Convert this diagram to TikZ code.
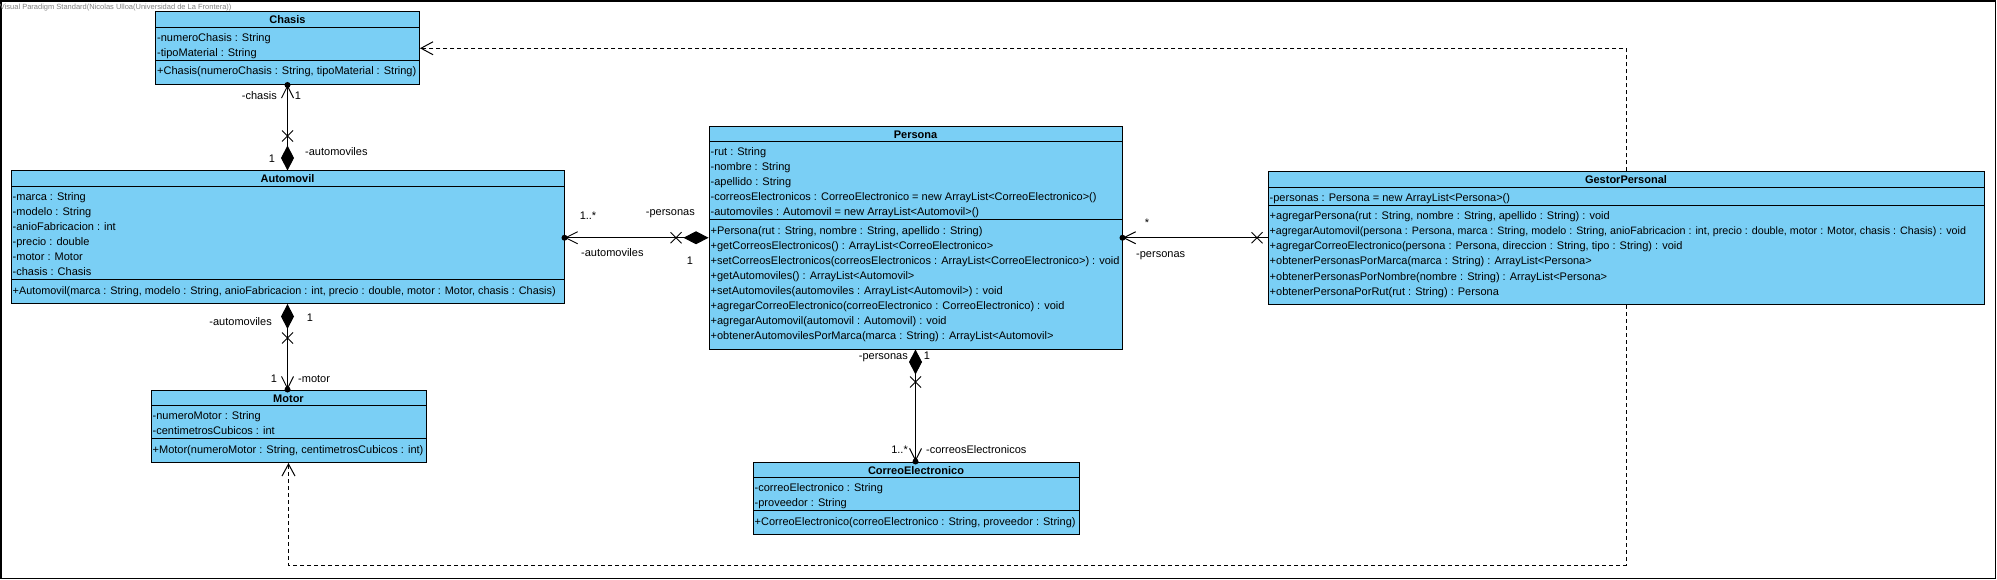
\documentclass[tikz,border=0pt]{standalone}
\usepackage{fontspec}
\setmainfont{Liberation Sans}
\usetikzlibrary{arrows.meta,calc}
\definecolor{umlfill}{RGB}{122,207,245}
\definecolor{wmgray}{RGB}{128,128,128}
\newcommand\xmk[2]{\draw[line width=0.8pt] (#1-5.5,#2-5.5) -- (#1+5.5,#2+5.5) (#1-5.5,#2+5.5) -- (#1+5.5,#2-5.5);}
\begin{document}
\begin{tikzpicture}[x=1pt,y=-1pt,
  font=\fontsize{11}{13}\selectfont,
  classbox/.style={draw=black, fill=umlfill, line width=1pt, inner sep=0pt, rectangle},
  rowtext/.style={anchor=base west, inner sep=0pt},
  headtext/.style={anchor=base, inner sep=0pt, font=\fontsize{11}{13}\selectfont\bfseries},
  lbl/.style={anchor=base, inner sep=0pt},
  lble/.style={anchor=base east, inner sep=0pt},
  lblw/.style={anchor=base west, inner sep=0pt},
  conn/.style={draw=black, line width=1pt},
  comp/.style={conn, {Diamond[length=25pt,width=13pt]}-{Straight Barb[length=12pt,width=12pt]}},
  navassoc/.style={conn, -{Straight Barb[length=12pt,width=12pt]}},
  dep/.style={draw=black, line width=1pt, dash pattern=on 4pt off 3pt, -{Straight Barb[length=12pt,width=13pt]}},
  dot/.style={fill=black}
]
\useasboundingbox (0,0) rectangle (1997,580);
\draw[line width=1.5pt] (1,1) rectangle (1995.5,578.5);
\node[anchor=base west, inner sep=0pt, text=wmgray, font=\fontsize{7.5}{8}\selectfont] (wm) at (-0.3,9.5) {Visual Paradigm Standard(Nicolas Ulloa(Universidad de La Frontera))};

% ---------- Chasis ----------
\node[classbox, minimum width=264pt, minimum height=72.5pt] (chasis) at (287.5,48.25) {};
\draw[line width=1pt] (155.5,27.5) -- (419.5,27.5) (155.5,60.5) -- (419.5,60.5);
\node[headtext] (chasisT) at (287.5,24) {Chasis};
\node[rowtext] (ch1) at (157,41.5) {-numeroChasis : String};
\node[rowtext] (ch2) at (157,56.5) {-tipoMaterial : String};
\node[rowtext] (ch3) at (157,75) {+Chasis(numeroChasis : String, tipoMaterial : String)};

% ---------- Automovil ----------
\node[classbox, minimum width=553pt, minimum height=132.5pt] (auto) at (287.5,237.25) {};
\draw[line width=1pt] (11,186.5) -- (564,186.5) (11,279.5) -- (564,279.5);
\node[headtext] (autoT) at (287.5,183) {Automovil};
\node[rowtext] (a1) at (12.5,200.5) {-marca : String};
\node[rowtext] (a2) at (12.5,215.5) {-modelo : String};
\node[rowtext] (a3) at (12.5,230.5) {-anioFabricacion : int};
\node[rowtext] (a4) at (12.5,245.5) {-precio : double};
\node[rowtext] (a5) at (12.5,260.5) {-motor : Motor};
\node[rowtext] (a6) at (12.5,275.5) {-chasis : Chasis};
\node[rowtext, font=\fontsize{10.85}{13}\selectfont] (a7) at (12.5,294) {+Automovil(marca : String, modelo : String, anioFabricacion : int, precio : double, motor : Motor, chasis : Chasis)};

% ---------- Motor ----------
\node[classbox, minimum width=275pt, minimum height=72.5pt] (motor) at (288.5,426.25) {};
\draw[line width=1pt] (151,405.5) -- (426,405.5) (151,438.5) -- (426,438.5);
\node[headtext] (motorT) at (288.5,402) {Motor};
\node[rowtext] (m1) at (152.5,419.5) {-numeroMotor : String};
\node[rowtext] (m2) at (152.5,434.5) {-centimetrosCubicos : int};
\node[rowtext] (m3) at (152.5,453) {+Motor(numeroMotor : String, centimetrosCubicos : int)};

% ---------- Persona ----------
\node[classbox, minimum width=413pt, minimum height=222.5pt] (persona) at (915.5,237.75) {};
\draw[line width=1pt] (709,142) -- (1122,142) (709,220) -- (1122,220);
\node[headtext] (personaT) at (915.5,138.5) {Persona};
\node[rowtext] (p1) at (710.5,156) {-rut : String};
\node[rowtext] (p2) at (710.5,171) {-nombre : String};
\node[rowtext] (p3) at (710.5,186) {-apellido : String};
\node[rowtext] (p4) at (710.5,201) {-correosElectronicos : CorreoElectronico = new ArrayList<CorreoElectronico>()};
\node[rowtext] (p5) at (710.5,216) {-automoviles : Automovil = new ArrayList<Automovil>()};
\node[rowtext] (p6) at (710.5,234.5) {+Persona(rut : String, nombre : String, apellido : String)};
\node[rowtext] (p7) at (710.5,249.5) {+getCorreosElectronicos() : ArrayList<CorreoElectronico>};
\node[rowtext] (p8) at (710.5,264.5) {+setCorreosElectronicos(correosElectronicos : ArrayList<CorreoElectronico>) : void};
\node[rowtext] (p9) at (710.5,279.5) {+getAutomoviles() : ArrayList<Automovil>};
\node[rowtext] (p10) at (710.5,294.5) {+setAutomoviles(automoviles : ArrayList<Automovil>) : void};
\node[rowtext] (p11) at (710.5,309.5) {+agregarCorreoElectronico(correoElectronico : CorreoElectronico) : void};
\node[rowtext] (p12) at (710.5,324.5) {+agregarAutomovil(automovil : Automovil) : void};
\node[rowtext] (p13) at (710.5,339.5) {+obtenerAutomovilesPorMarca(marca : String) : ArrayList<Automovil>};

% ---------- CorreoElectronico ----------
\node[classbox, minimum width=326pt, minimum height=72.5pt] (correo) at (916,498.25) {};
\draw[line width=1pt] (753,477.5) -- (1079,477.5) (753,510.5) -- (1079,510.5);
\node[headtext] (correoT) at (916,474) {CorreoElectronico};
\node[rowtext] (e1) at (754.5,491.5) {-correoElectronico : String};
\node[rowtext] (e2) at (754.5,506.5) {-proveedor : String};
\node[rowtext] (e3) at (754.5,525) {+CorreoElectronico(correoElectronico : String, proveedor : String)};

% ---------- GestorPersonal ----------
\node[classbox, minimum width=716pt, minimum height=132.5pt] (gestor) at (1626,238.25) {};
\draw[line width=1pt] (1268,187.5) -- (1984,187.5) (1268,205.5) -- (1984,205.5);
\node[headtext] (gestorT) at (1626,184) {GestorPersonal};
\node[rowtext] (g1) at (1269.5,201.5) {-personas : Persona = new ArrayList<Persona>()};
\node[rowtext] (g2) at (1269.5,220) {+agregarPersona(rut : String, nombre : String, apellido : String) : void};
\node[rowtext, font=\fontsize{10.7}{13}\selectfont] (g3) at (1269.5,235) {+agregarAutomovil(persona : Persona, marca : String, modelo : String, anioFabricacion : int, precio : double, motor : Motor, chasis : Chasis) : void};
\node[rowtext] (g4) at (1269.5,250) {+agregarCorreoElectronico(persona : Persona, direccion : String, tipo : String) : void};
\node[rowtext] (g5) at (1269.5,265) {+obtenerPersonasPorMarca(marca : String) : ArrayList<Persona>};
\node[rowtext] (g6) at (1269.5,280) {+obtenerPersonasPorNombre(nombre : String) : ArrayList<Persona>};
\node[rowtext] (g7) at (1269.5,295) {+obtenerPersonaPorRut(rut : String) : Persona};

% ---------- Automovil -> Chasis ----------
\draw[comp] (auto.north) -- (auto.north |- chasis.south);
\fill[dot] (auto.north |- chasis.south) circle[radius=3];
\xmk{287.5}{136}
\node[lble] (l1) at (277,100) {-chasis};
\node[lbl] (l2) at (298,100) {1};
\node[lblw] (l3) at (305,156) {-automoviles};
\node[lbl] (l4) at (272,163) {1};

% ---------- Automovil -> Motor ----------
\draw[comp] (auto.south) -- (auto.south |- motor.north);
\fill[dot] (auto.south |- motor.north) circle[radius=3];
\xmk{287.5}{338}
\node[lble] (l5) at (272,325) {-automoviles};
\node[lbl] (l6) at (310,321) {1};
\node[lbl] (l7) at (274,382) {1};
\node[lblw] (l8) at (298,382) {-motor};

% ---------- Persona -> Automovil ----------
\draw[comp] (persona.west) -- (persona.west -| auto.east);
\fill[dot] (persona.west -| auto.east) circle[radius=3];
\xmk{676}{237.75}
\node[lbl] (l9) at (588,220) {1..*};
\node[lblw] (l10) at (581,256) {-automoviles};
\node[lble] (l11) at (695,216) {-personas};
\node[lbl] (l12) at (690,265) {1};

% ---------- GestorPersonal -> Persona ----------
\draw[navassoc] (gestor.west |- persona.east) -- (persona.east);
\fill[dot] (persona.east) circle[radius=3];
\xmk{1257}{237.75}
\node[lbl] (l13) at (1147,226) {*};
\node[lblw] (l14) at (1136,257) {-personas};

% ---------- Persona -> CorreoElectronico ----------
\draw[comp] (persona.south) -- (persona.south |- correo.north);
\fill[dot] (persona.south |- correo.north) circle[radius=3];
\xmk{915.5}{382}
\node[lble] (l15) at (908,359) {-personas};
\node[lbl] (l16) at (927,359) {1};
\node[lble] (l17) at (908,453) {1..*};
\node[lblw] (l18) at (926,453) {-correosElectronicos};

% ---------- Dependencies ----------
\coordinate (low) at (0,565);
\draw[dep] (gestor.north) |- (chasis.east);
\draw[dep] (gestor.south) -- (gestor.south |- low) -| (motor.south);
\end{tikzpicture}
\end{document}
